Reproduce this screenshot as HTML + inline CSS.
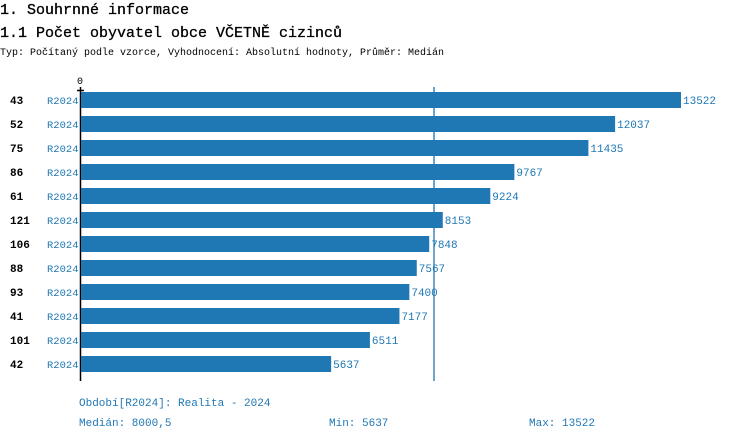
<!DOCTYPE html>
<html><head><meta charset="utf-8"><style>
body{margin:0;width:750px;height:440px;background:#fff;overflow:hidden;font-family:"Liberation Mono",monospace}
</style></head><body>
<svg width="750" height="440" xmlns="http://www.w3.org/2000/svg" font-family="Liberation Mono, monospace">
<text x="0" y="14" font-size="15" fill="#000" stroke="#000" stroke-width="0.3">1. Souhrnné informace</text>
<text x="0" y="37" font-size="15" fill="#000" stroke="#000" stroke-width="0.3">1.1 Počet obyvatel obce VČETNĚ cizinců</text>
<text x="0" y="55" font-size="10" fill="#000" textLength="444">Typ: Počítaný podle vzorce, Vyhodnocení: Absolutní hodnoty, Průměr: Medián</text>
<text x="80" y="84" font-size="10" text-anchor="middle" fill="#000">0</text>
<line x1="434" y1="87" x2="434" y2="381" stroke="#1f77b4" stroke-width="1.3"/>
<line x1="77" y1="90.5" x2="84" y2="90.5" stroke="#000" stroke-width="1.5"/>
<line x1="80.5" y1="87" x2="80.5" y2="381" stroke="#000" stroke-width="1.5"/>
<g font-size="11">
<g id="rows"></g>
</g>
<text x="79" y="406" font-size="11" fill="#1f77b4">Období[R2024]: Realita - 2024</text>
<text x="79" y="426" font-size="11" fill="#1f77b4">Medián: 8000,5</text>
<text x="329" y="426" font-size="11" fill="#1f77b4">Min: 5637</text>
<text x="529" y="426" font-size="11" fill="#1f77b4">Max: 13522</text>
</svg>
<script>
var d=[[43,13522],[52,12037],[75,11435],[86,9767],[61,9224],[121,8153],[106,7848],[88,7567],[93,7400],[41,7177],[101,6511],[42,5637]];
var g=document.getElementById('rows'),s='';
d.forEach(function(r,i){var y=92+i*24,w=600*r[1]/13522;
s+='<text x="10" y="'+(y+12)+'" font-weight="bold" fill="#000">'+r[0]+'</text>';
s+='<text x="47" y="'+(y+12)+'" font-size="10.5" fill="#1f77b4">R2024</text>';
s+='<rect x="81" y="'+y+'" width="'+w+'" height="16" fill="#1f77b4"/>';
s+='<text x="'+(83+w)+'" y="'+(y+12)+'" fill="#1f77b4">'+r[1]+'</text>';});
g.innerHTML=s;
</script>
</body></html>
